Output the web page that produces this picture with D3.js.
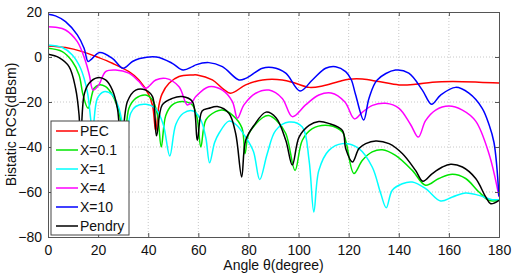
<!DOCTYPE html>
<html>
<head>
<meta charset="utf-8">
<title>Bistatic RCS</title>
<script src="https://d3js.org/d3.v7.min.js"></script>
<style>
  body { margin: 0; background: #fff; }
  text { font-family: "Liberation Sans", Arial, sans-serif; }
  .grid line { stroke: #c8c8c8; stroke-dasharray: 1,2; }
</style>
</head>
<body>
<svg id="chart" width="518" height="274"></svg>
<script>
// angle (deg), RCS (dBsm)
var pec = [[0,4.9],[7,4.2],[13.7,2.4],[20.3,-0.3],[25.7,-2.8],[32.3,-6.5],[36.3,-10.2],[40.3,-16.9],[41.8,-22],[43,-33],[44.2,-22],[45.5,-16.5],[48.3,-11.7],[52.3,-8.7],[57.6,-8],[59.5,-8],[65.6,-10.2],[69.6,-13.9],[72.9,-16.1],[78.9,-12.4],[85.6,-10.2],[93.5,-10.2],[98.8,-11.7],[104.2,-13.5],[109.5,-12.9],[116.1,-10.9],[120.1,-9.9],[125.5,-9.8],[132,-10.9],[140.1,-12.4],[146.7,-12.1],[153.4,-11.2],[161.4,-10.9],[172,-11.2],[180,-11.6]];

var x01 = [[0,3.9],[5.7,2.4],[9.7,-2],[12.4,-8],[14,-16.9],[16,-22.8],[18.4,-13.9],[20.3,-12.4],[23,-13.2],[25.7,-16.9],[28.3,-24.3],[30.5,-38],[32.3,-22.8],[35,-18.4],[39,-16.9],[41.7,-19.1],[43.7,-25.8],[45.2,-40],[47,-26],[49.6,-21.3],[53.6,-19.8],[57.6,-21.3],[59.5,-27],[61,-40],[63,-28],[66.9,-24.3],[69.6,-23.6],[73.6,-25.8],[77.4,-31.5],[78.6,-43],[80.2,-34],[85.6,-27],[88,-26],[91,-28],[94.9,-34],[98.6,-50.4],[101.5,-37],[105.5,-31.8],[112.1,-30.4],[117.5,-33.3],[119,-38],[122.1,-51.8],[125.5,-45.9],[129.4,-42.2],[133.4,-41.2],[138.7,-43.7],[145.4,-50.4],[150.7,-57],[156,-54],[161.4,-52.1],[166.7,-54],[172,-60],[176,-63.7],[180,-63.7]];

var x1 = [[0,5.3],[5.7,4.2],[9.7,0.9],[13,-5],[15.7,-15.4],[17.8,-32],[19.7,-18.4],[22.3,-15.4],[25.7,-16.9],[28.3,-22.8],[31,-35],[33,-25],[35,-22],[39,-21],[43,-23],[46,-30],[48.6,-44],[51,-30],[54,-25],[58,-24],[61,-28],[63,-36],[64.5,-47],[66.5,-38],[68.2,-34],[72.2,-28.5],[75,-30],[78.9,-35.6],[82,-42],[84.5,-54.5],[87.5,-43],[90.9,-32.6],[96.2,-28.9],[101.5,-31.1],[104.2,-45.9],[106.1,-68.9],[108.1,-50.4],[112.1,-41.5],[117.5,-38.5],[124.1,-40.7],[129.4,-48.9],[132.8,-60.7],[135,-67],[137.4,-59.2],[141.4,-56.3],[145.4,-55.6],[150.7,-58.5],[156.7,-64],[161.4,-62.2],[166.7,-60.4],[172,-61.5],[177.3,-63.4],[180,-63.4]];

var x4 = [[0,13.5],[3,13.2],[7,12],[11.7,6.8],[15,-2],[16.5,-8],[18,-14.7],[20.3,-12.4],[23,-6.5],[27,-5.8],[32.3,-7.2],[36.3,-10.9],[39,-13.9],[43,-10.2],[47,-9.5],[52.3,-13.2],[55.6,-21.3],[57.6,-19.8],[59,-17.6],[64.2,-13.2],[69.6,-14.7],[73.6,-19.8],[75.6,-27.2],[78.2,-21.3],[82.9,-16.1],[88.2,-14.7],[93.5,-18.4],[97.5,-26.5],[102.8,-21.3],[108.1,-16.9],[113,-16],[118.5,-20],[122.3,-27.5],[125.5,-24.5],[129.5,-21.5],[134.8,-20.6],[140.1,-22.8],[144.7,-30],[147.8,-35.6],[150.7,-28.3],[154.7,-23.6],[160,-21.8],[165.4,-23.6],[170.7,-28.5],[176,-43],[180,-62]];

var x10 = [[0,19],[3,18.3],[7,15.7],[11.7,9.8],[14.4,3.9],[16,-2],[17.5,-0.8],[20.6,2],[25.7,-0.6],[30,-5],[33.7,-2],[36.6,-0.7],[43.3,0],[49.6,-2.8],[53.9,-5.8],[57.6,-4.3],[59,-3.5],[64.2,-2.5],[69.6,-4.3],[76.2,-10.2],[78.9,-9.5],[85.6,-5],[89.5,-4.7],[94.9,-7.2],[100.6,-15.1],[105.5,-10.2],[110.8,-5],[114.8,-4.3],[118.8,-6.5],[121,-10],[122.8,-16.9],[126,-28],[128.1,-18.4],[131.4,-10.2],[138.7,-5.8],[144,-7.2],[149.4,-14.7],[153.1,-21],[156.7,-16.9],[162.7,-13.5],[168,-16.1],[173.3,-22.8],[176,-30],[178,-38],[180,-62]];

var pendry = [[0,1.2],[4.4,-0.3],[8.4,-4.3],[11,-13.9],[12.4,-25.8],[13,-40],[14.4,-16.9],[16.4,-11.7],[19.7,-9.2],[23,-10.2],[25.7,-14.7],[27.7,-22.8],[29.3,-40],[31.7,-19.8],[35,-14.7],[39,-14.7],[41.7,-17.6],[43.3,-35],[45.6,-21.3],[49.6,-18.4],[53.6,-17.6],[57.6,-19.8],[59.6,-37],[61.5,-24],[64.2,-22.8],[67.6,-22],[72.2,-25],[74.9,-34],[77.3,-53.3],[78.9,-37],[82.2,-30.4],[87,-24.5],[91,-27],[94.9,-37],[97.5,-48],[100.2,-35.6],[104.2,-30.4],[108.1,-28.7],[112,-29.5],[117.5,-32.6],[118.8,-40.7],[121.5,-46.7],[124.1,-40.7],[126.8,-38.5],[130.8,-37.3],[136.1,-38.5],[141.4,-42.9],[146.7,-50.4],[149.6,-55.2],[153.4,-51.8],[157.4,-48.9],[160.7,-47.7],[165.4,-48.9],[170.7,-54],[174.7,-62.2],[176.7,-65.2],[180,-63.7]];

var seriesNames = ["PEC", "X=0.1", "X=1", "X=4", "X=10", "Pendry"];
var seriesColors = ["#ff0000", "#00e600", "#00ffff", "#ff00ff", "#0000ff", "#000000"];
var seriesData = [pec, x01, x1, x4, x10, pendry];
var xTicks = [0, 20, 40, 60, 80, 100, 120, 140, 160, 180];
var yTicks = [-80, -60, -40, -20, 0, 20];

var svg = d3.select("#chart");
var margin = {top: 12, right: 19, bottom: 37, left: 48};
var width = 518 - margin.left - margin.right,
    height = 274 - margin.top - margin.bottom;
var g = svg.append("g").attr("transform", "translate(" + margin.left + "," + margin.top + ")");

var x = d3.scaleLinear().domain([0, 180]).range([0, width]);
var y = d3.scaleLinear().domain([-80, 20]).range([height, 0]);

// dotted grid
g.append("g").attr("class", "grid")
  .selectAll("line.vx").data(xTicks.slice(1, -1)).enter().append("line")
  .attr("x1", d => x(d)).attr("x2", d => x(d)).attr("y1", 0).attr("y2", height);
g.select(".grid")
  .selectAll("line.hy").data(yTicks.slice(1, -1)).enter().append("line")
  .attr("x1", 0).attr("x2", width).attr("y1", d => y(d)).attr("y2", d => y(d));

svg.append("clipPath").attr("id", "plotclip")
  .append("rect").attr("width", width).attr("height", height);

var line = d3.line()
  .x(d => x(d[0])).y(d => y(d[1]))
  .curve(d3.curveCatmullRom.alpha(0.5));

g.append("g").attr("clip-path", "url(#plotclip)")
  .selectAll("path").data(seriesData).enter().append("path")
  .attr("fill", "none")
  .attr("stroke", (d, i) => seriesColors[i])
  .attr("stroke-width", 1.5)
  .attr("d", line);

// axes, ticks pointing inwards like matlab
var xAxis = d3.axisBottom(x).tickValues(xTicks).tickSize(-4).tickPadding(8);
var yAxis = d3.axisLeft(y).tickValues(yTicks).tickSize(-4).tickPadding(6);

g.append("g").attr("transform", "translate(0," + height + ")").call(xAxis);
g.append("g").call(yAxis);
g.append("g")
  .call(d3.axisTop(x).tickValues(xTicks).tickSize(-4).tickFormat(""));
g.append("g").attr("transform", "translate(" + width + ",0)")
  .call(d3.axisRight(y).tickValues(yTicks).tickSize(-4).tickFormat(""));

g.selectAll(".domain, .tick line").attr("stroke", "#555");
g.selectAll(".tick text").attr("fill", "#111").style("font-size", "14px")
  .style("font-family", "Liberation Sans, Arial, sans-serif");

svg.append("text")
  .attr("x", margin.left + width / 2).attr("y", 270)
  .attr("text-anchor", "middle").style("font-size", "14px").attr("fill", "#111")
  .text("Angle \u03b8(degree)");

svg.append("text")
  .attr("transform", "translate(16," + (margin.top + height / 2) + ") rotate(-90)")
  .attr("text-anchor", "middle").style("font-size", "14px").attr("fill", "#111")
  .text("Bistatic RCS(dBsm)");

// legend
var leg = svg.append("g").attr("transform", "translate(51,121)");
leg.append("rect").attr("width", 78).attr("height", 114)
  .attr("fill", "#fff").attr("stroke", "#444").attr("stroke-width", 1);
var rows = leg.selectAll("g.row").data(seriesNames).enter().append("g")
  .attr("transform", (d, i) => "translate(0," + (10 + i * 19) + ")");
rows.append("line").attr("x1", 5).attr("x2", 27)
  .attr("stroke", (d, i) => seriesColors[i]).attr("stroke-width", 1.5);
rows.append("text").attr("x", 29).attr("y", 5)
  .style("font-size", "14px").attr("fill", "#111").text(d => d);
</script>
</body>
</html>
